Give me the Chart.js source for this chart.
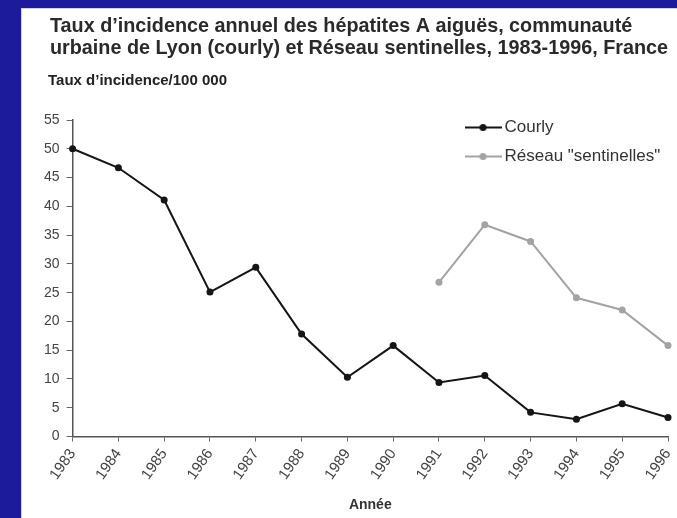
<!DOCTYPE html>
<html>
<head>
<meta charset="utf-8">
<script src="https://cdn.jsdelivr.net/npm/chart.js@4"></script>
<style>
  html, body { margin: 0; padding: 0; background: #1b1b9b; }
  #wrap { position: relative; width: 677px; height: 518px; overflow: hidden; }
  #panel { position: absolute; left: 21px; top: 8px; right: 0; bottom: 0; background: #ffffff; border-left: 1px solid #d0d0f0; border-top: 1px solid #d0d0f0; }
  #c { position: absolute; left: 0; top: 0; }
</style>
</head>
<body>
<div id="wrap">
  <div id="panel"></div>
  <canvas id="c" width="677" height="518"></canvas>
</div>
<script>
// ---- Data ----
const years = ['1983','1984','1985','1986','1987','1988','1989','1990','1991','1992','1993','1994','1995','1996'];
const courly = [50.0, 46.7, 41.1, 25.1, 29.4, 17.8, 10.3, 15.8, 9.4, 10.6, 4.2, 3.0, 5.7, 3.3];
const sentinelles = [null, null, null, null, null, null, null, null, 26.8, 36.8, 33.9, 24.1, 22.0, 15.8];
const seriesNames = ['Courly', 'Réseau "sentinelles"'];
const titleLines = ['Taux d\u2019incidence annuel des hépatites A aiguës, communauté',
                    'urbaine de Lyon (courly) et Réseau sentinelles, 1983-1996, France'];
const yAxisTitle = 'Taux d\u2019incidence/100 000';
const xAxisTitle = 'Année';

const FONT = "'Liberation Sans', Arial, Helvetica, sans-serif";
const BLACK = '#151515';
const GRAY = '#a3a3a3';

function legendIcon(color) {
  const cv = document.createElement('canvas');
  cv.width = 37; cv.height = 9;
  const g = cv.getContext('2d');
  g.strokeStyle = color; g.lineWidth = 2;
  g.beginPath(); g.moveTo(0, 4.5); g.lineTo(37, 4.5); g.stroke();
  g.fillStyle = color;
  g.beginPath(); g.arc(18.5, 4.5, 3.5, 0, Math.PI * 2); g.fill();
  return cv;
}
const icons = [legendIcon(BLACK), legendIcon(GRAY)];

const placer = {
  id: 'placer',
  afterLayout(chart) {
    if (chart.legend) {
      chart.legend.left = 458;
      chart.legend.top = 107;
      chart.legend.right = 677;
    }
    chart.boxes.forEach(b => {
      if (!b.options) return;
      if (b.options.text === titleLines) { b.left = 50; }
      else if (b.options.text === yAxisTitle) { b.left = 48; }
    });
  }
};

new Chart(document.getElementById('c'), {
  type: 'line',
  data: {
    labels: years,
    datasets: [
      { label: seriesNames[0], data: courly, borderColor: BLACK, backgroundColor: BLACK,
        borderWidth: 2, pointRadius: 3.5, pointBackgroundColor: BLACK, pointBorderWidth: 0,
        tension: 0, pointStyle: 'circle' },
      { label: seriesNames[1], data: sentinelles, borderColor: GRAY, backgroundColor: GRAY,
        borderWidth: 2, pointRadius: 3.5, pointBackgroundColor: GRAY, pointBorderWidth: 0,
        tension: 0, pointStyle: 'circle' }
    ]
  },
  options: {
    responsive: false,
    animation: false,
    layout: { padding: { left: 37, right: 9, top: 0, bottom: 4 } },
    plugins: {
      title: {
        display: true, text: titleLines, align: 'start', color: '#2a2a2a',
        font: { family: FONT, size: 19.8, weight: 'bold', lineHeight: 22.5 / 19.8 },
        padding: { top: 15, bottom: 0 }
      },
      subtitle: {
        display: true, text: yAxisTitle, align: 'start', color: '#222',
        font: { family: FONT, size: 15, weight: 'bold' },
        padding: { top: 12, bottom: 30 }
      },
      legend: {
        display: true, position: 'chartArea', align: 'start',
        labels: {
          usePointStyle: true, pointStyleWidth: 26, color: '#333', padding: 12,
          font: { family: FONT, size: 17 },
          generateLabels(chart) {
            return chart.data.datasets.map((ds, i) => ({
              text: ds.label, pointStyle: icons[i], fillStyle: ds.borderColor,
              strokeStyle: ds.borderColor, lineWidth: 0, fontColor: '#333',
              hidden: false, datasetIndex: i
            }));
          }
        }
      },
      tooltip: { enabled: false }
    },
    scales: {
      x: {
        offset: false,
        afterFit(scale) { scale.paddingRight = 0; scale.paddingLeft = 0; },
        grid: { drawOnChartArea: false, drawTicks: true, tickLength: 5, color: '#666', lineWidth: 1 },
        border: { display: true, color: '#555', width: 1.5 },
        ticks: { color: '#444', font: { family: FONT, size: 15 }, minRotation: 55, maxRotation: 55, padding: 4, autoSkip: false },
        title: { display: true, text: xAxisTitle, color: '#333', font: { family: FONT, size: 14, weight: 'bold' }, padding: { top: 10, bottom: 0 } }
      },
      y: {
        min: 0, max: 55,
        grid: { drawOnChartArea: false, drawTicks: true, tickLength: 6, color: '#666', lineWidth: 1 },
        border: { display: true, color: '#555', width: 1.5 },
        ticks: { stepSize: 5, color: '#444', font: { family: FONT, size: 14 }, padding: 7 }
      }
    }
  },
  plugins: [placer]
});
</script>
</body>
</html>
